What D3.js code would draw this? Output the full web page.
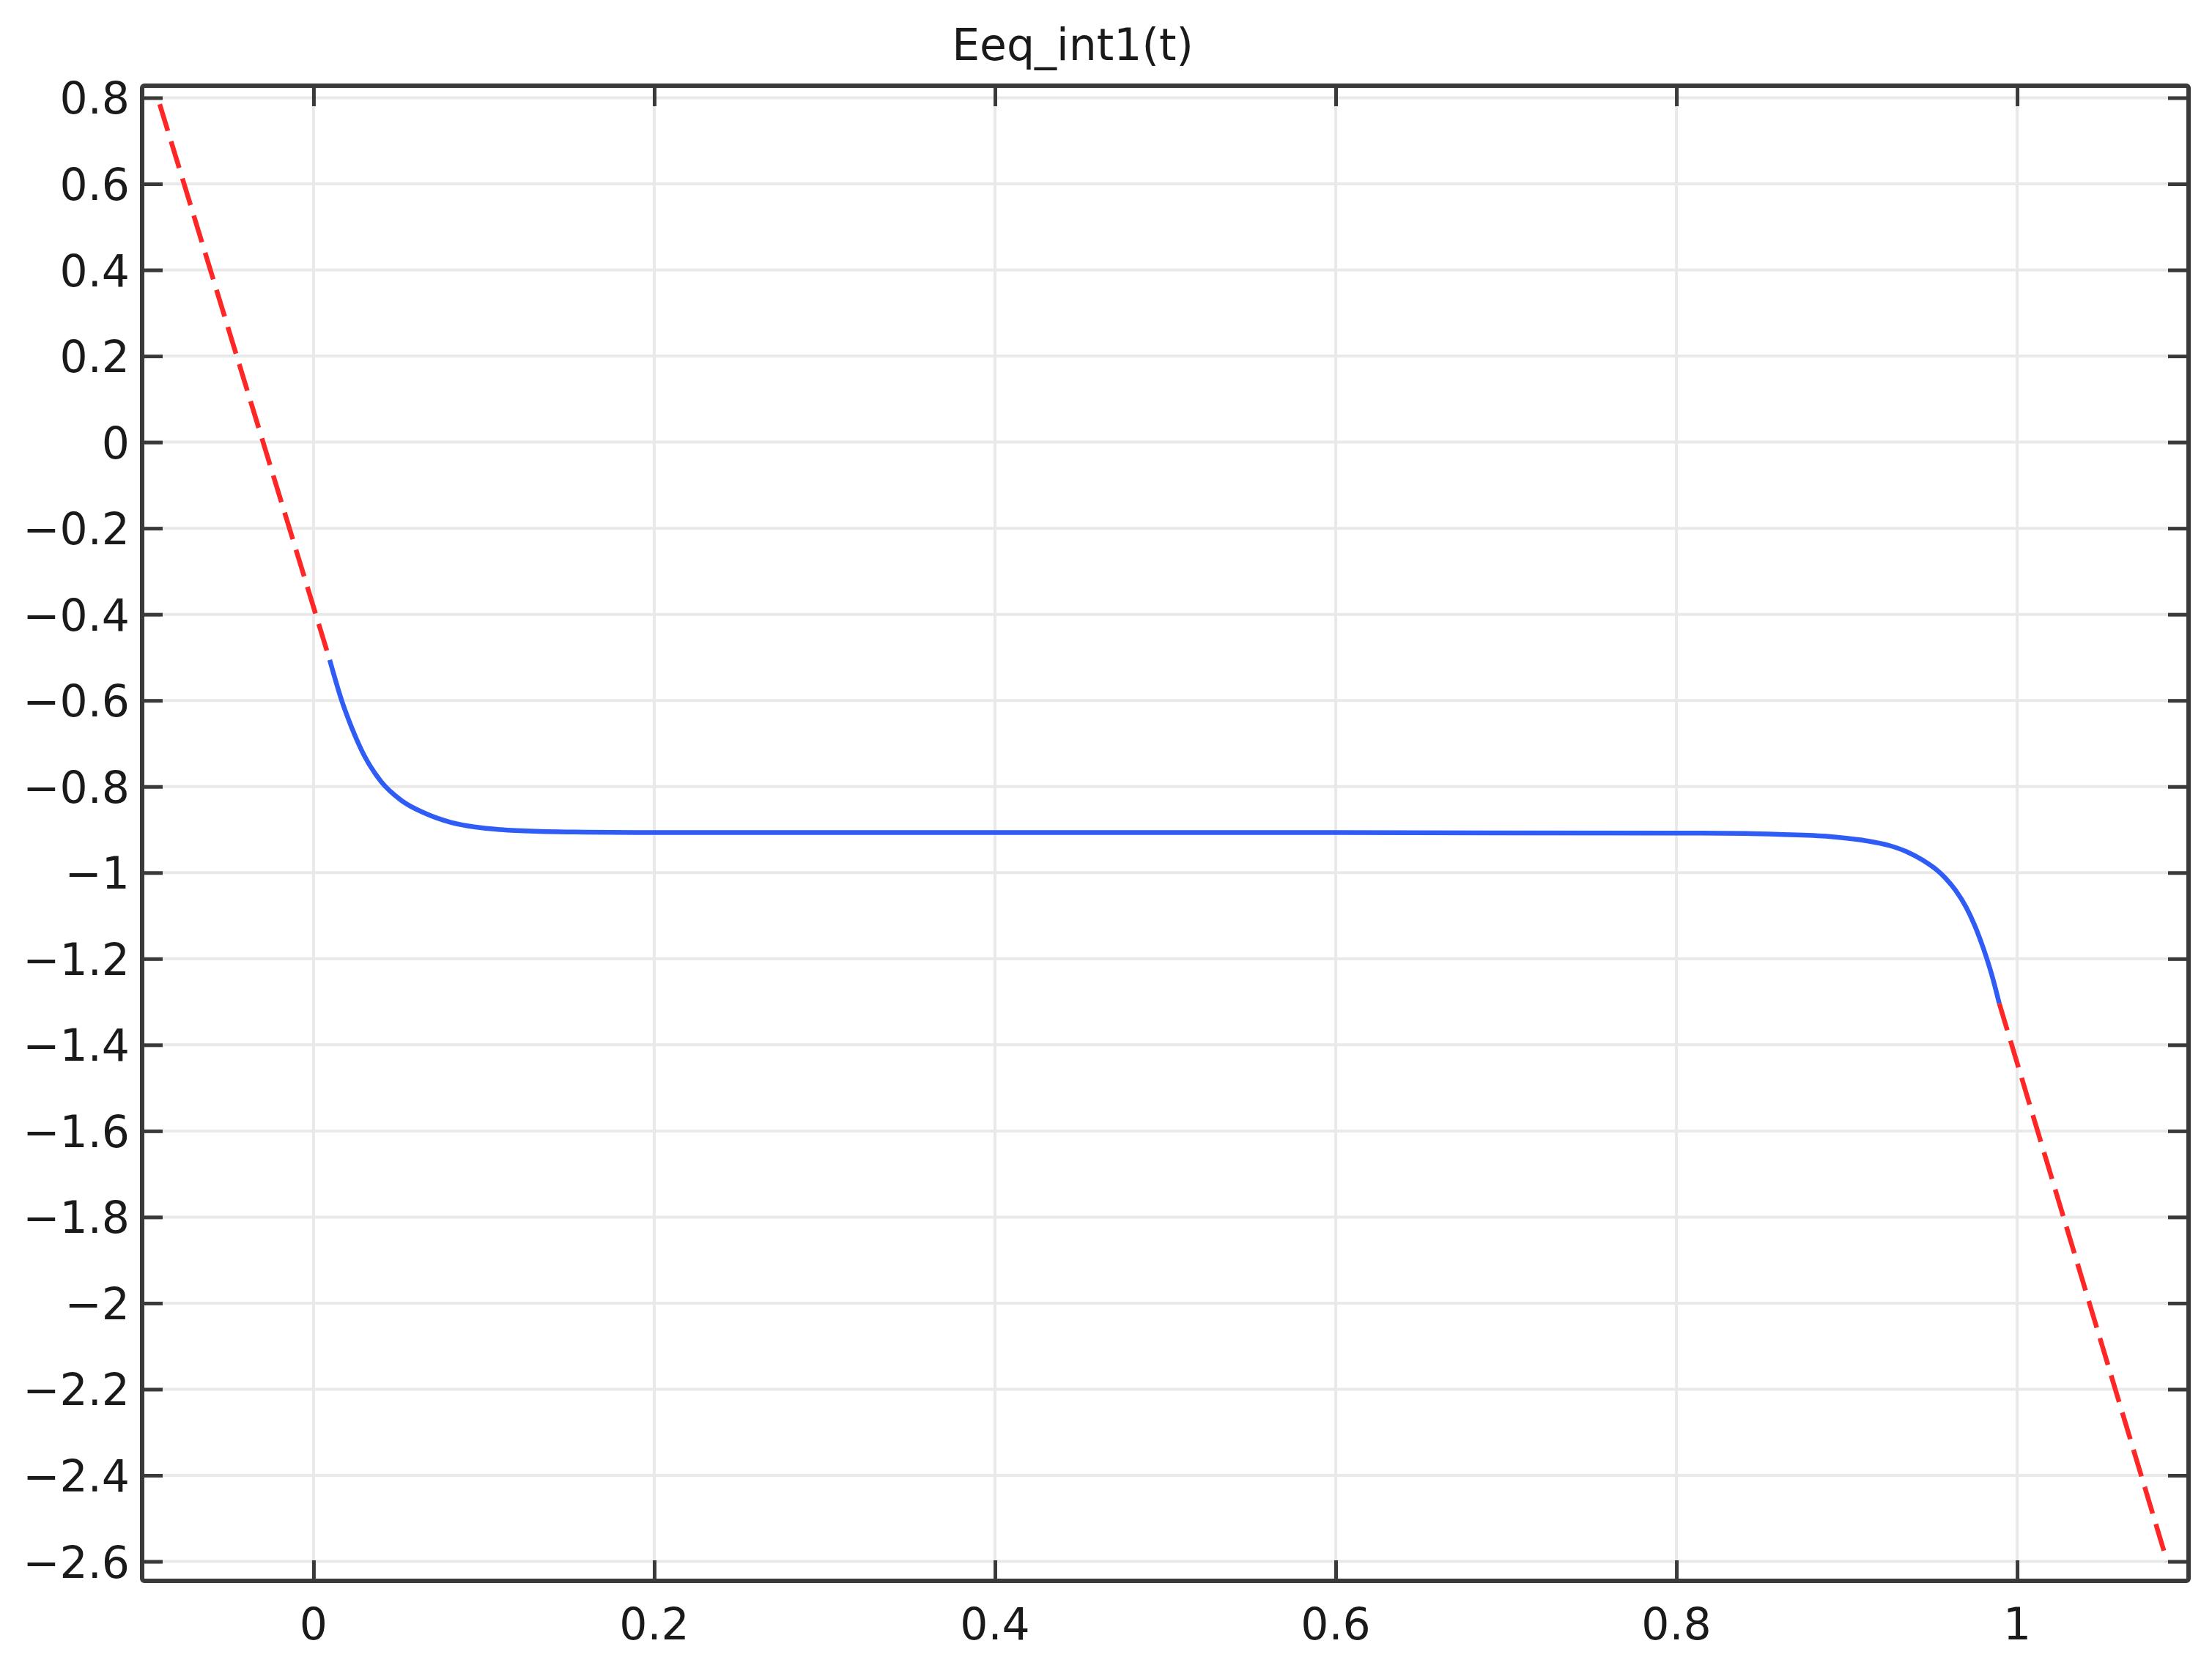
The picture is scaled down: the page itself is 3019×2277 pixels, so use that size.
<!DOCTYPE html>
<html>
<head>
<meta charset="utf-8">
<script src="https://cdn.jsdelivr.net/npm/d3@7"></script>
<style>
  html, body { margin: 0; padding: 0; background: #ffffff; }
  svg { display: block; }
  text { font-family: "DejaVu Sans", Verdana, sans-serif; fill: #1a1a1a; }
</style>
</head>
<body>
<svg id="chart" width="3019" height="2277"></svg>
<script>
// ---------------- data ----------------
const title = "Eeq_int1(t)";

// solid blue part: the interpolation function inside its defined interval
const blueT = [0.0095, 0.0166, 0.0224, 0.0295, 0.0396, 0.0515, 0.066, 0.0805, 0.095, 0.11,
               0.13, 0.16, 0.2, 0.4, 0.6, 0.8, 0.84, 0.86, 0.89, 0.91,
               0.925, 0.935, 0.945, 0.952, 0.958, 0.964, 0.97, 0.975, 0.98, 0.985, 0.9895];
const blueE = [-0.506, -0.601, -0.663, -0.726, -0.788, -0.832, -0.863, -0.883, -0.894, -0.9,
               -0.904, -0.906, -0.907, -0.907, -0.907, -0.908, -0.909, -0.911, -0.916, -0.925,
               -0.937, -0.951, -0.972, -0.991, -1.013, -1.042, -1.08, -1.122, -1.174, -1.236, -1.304];

// dashed red parts: linear extrapolation outside the interval
const redLeftT  = [-0.0903, 0.0095];
const redLeftE  = [0.785, -0.506];
const redRightT = [0.9895, 1.088];
const redRightE = [-1.304, -2.6];

// axes
const xDomain = [-0.1006, 1.1006];
const yDomain = [-2.645, 0.828];
const xTicks  = [0, 0.2, 0.4, 0.6, 0.8, 1];
const xTickLabels = ["0", "0.2", "0.4", "0.6", "0.8", "1"];
const yTicks  = [0.8, 0.6, 0.4, 0.2, 0, -0.2, -0.4, -0.6, -0.8, -1, -1.2, -1.4, -1.6, -1.8, -2, -2.2, -2.4, -2.6];
const yTickLabels = ["0.8", "0.6", "0.4", "0.2", "0", "\u22120.2", "\u22120.4", "\u22120.6", "\u22120.8", "\u22121",
                     "\u22121.2", "\u22121.4", "\u22121.6", "\u22121.8", "\u22122", "\u22122.2", "\u22122.4", "\u22122.6"];

// ---------------- layout ----------------
const plot = { left: 194, right: 2987, top: 117, bottom: 2158 };
const svg = d3.select("#chart");
svg.append("rect").attr("width", 3019).attr("height", 2277).attr("fill", "#ffffff");

const x = d3.scaleLinear().domain(xDomain).range([plot.left, plot.right]);
const y = d3.scaleLinear().domain(yDomain).range([plot.bottom, plot.top]);

// grid
const grid = svg.append("g").attr("stroke", "#e9e9e9").attr("stroke-width", 4);
grid.selectAll("line.gx").data(xTicks).join("line")
  .attr("x1", d => x(d)).attr("x2", d => x(d))
  .attr("y1", plot.top).attr("y2", plot.bottom);
grid.selectAll("line.gy").data(yTicks).join("line")
  .attr("y1", d => y(d)).attr("y2", d => y(d))
  .attr("x1", plot.left).attr("x2", plot.right);

// curves
const pts = (ts, es) => ts.map((t, i) => [t, es[i]]);
const lineGen = d3.line().x(d => x(d[0])).y(d => y(d[1])).curve(d3.curveMonotoneX);
const straight = d3.line().x(d => x(d[0])).y(d => y(d[1]));

svg.append("path").datum(pts(blueT, blueE))
  .attr("d", lineGen).attr("fill", "none")
  .attr("stroke", "#2f5cf5").attr("stroke-width", 6.5).attr("stroke-linejoin", "round");

[pts(redLeftT, redLeftE), pts(redRightT, redRightE)].forEach(seg => {
  svg.append("path").datum(seg)
    .attr("d", straight).attr("fill", "none")
    .attr("stroke", "#ff2626").attr("stroke-width", 6.5)
    .attr("stroke-dasharray", "38,15");
});

// axes (ticks inward on all four sides, labels on left/bottom)
const tickLen = 28;
const axLeft = d3.axisRight(y).tickValues(yTicks).tickSize(tickLen).tickFormat("");
const axRight = d3.axisLeft(y).tickValues(yTicks).tickSize(tickLen).tickFormat("");
const axTop = d3.axisBottom(x).tickValues(xTicks).tickSize(tickLen).tickFormat("");
const axBottom = d3.axisTop(x).tickValues(xTicks).tickSize(tickLen).tickFormat("");

function styleAxis(g) {
  g.select(".domain").remove();
  g.selectAll(".tick line").attr("stroke", "#3a3a3a").attr("stroke-width", 5);
}
svg.append("g").attr("transform", `translate(${plot.left},0)`).call(axLeft).call(styleAxis);
svg.append("g").attr("transform", `translate(${plot.right},0)`).call(axRight).call(styleAxis);
svg.append("g").attr("transform", `translate(0,${plot.top})`).call(axTop).call(styleAxis);
svg.append("g").attr("transform", `translate(0,${plot.bottom})`).call(axBottom).call(styleAxis);

// frame
svg.append("rect")
  .attr("x", plot.left).attr("y", plot.top)
  .attr("width", plot.right - plot.left).attr("height", plot.bottom - plot.top)
  .attr("fill", "none").attr("stroke", "#3a3a3a").attr("stroke-width", 6)
  .attr("stroke-linejoin", "round").attr("rx", 3);

// tick labels
svg.append("g").selectAll("text").data(yTicks).join("text")
  .attr("x", 177).attr("y", d => y(d) + 22)
  .attr("text-anchor", "end").attr("font-size", 60)
  .text((d, i) => yTickLabels[i]);

svg.append("g").selectAll("text").data(xTicks).join("text")
  .attr("x", d => x(d)).attr("y", 2238)
  .attr("text-anchor", "middle").attr("font-size", 60)
  .text((d, i) => xTickLabels[i]);

// title
svg.append("text")
  .attr("x", 1464).attr("y", 82)
  .attr("text-anchor", "middle").attr("font-size", 60)
  .text(title);
</script>
</body>
</html>
